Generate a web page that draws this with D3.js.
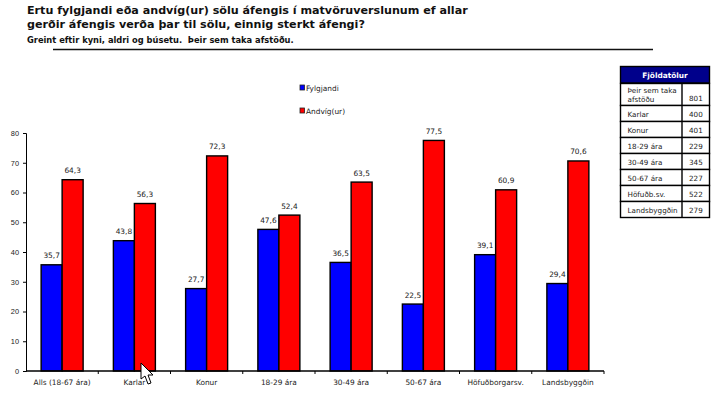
<!DOCTYPE html>
<meta charset="utf-8">
<title>Afstaða til sölu áfengis</title>
<style>
body { margin: 0; background: #fff; }
svg { display: block; font-family: "DejaVu Sans", sans-serif; }
.title { font-size: 11.15px; font-weight: bold; fill: #111; }
.sub { font-size: 8.3px; font-weight: bold; fill: #111; }
.axis text { font-size: 7.4px; fill: #222; }
.axis path, .axis line { stroke: #000; }
.val { font-size: 7.4px; fill: #222; text-anchor: middle; }
.legend { font-size: 7.4px; fill: #222; }
.cell { font-size: 7.2px; fill: #222; }
</style>
<svg width="719" height="401"></svg>
<script src="https://d3js.org/d3.v7.min.js"></script>
<script>

var categories = ["Alls (18-67 ára)", "Karlar", "Konur", "18-29 ára", "30-49 ára", "50-67 ára", "Höfuðborgarsv.", "Landsbyggðin"];
var fylgjandi = [35.7, 43.8, 27.7, 47.6, 36.5, 22.5, 39.1, 29.4];
var andvig = [64.3, 56.3, 72.3, 52.4, 63.5, 77.5, 60.9, 70.6];
var seriesNames = ["Fylgjandi", "Andvíg(ur)"];
var seriesColors = ["#0000ff", "#ff0000"];
var yTicks = [0, 10, 20, 30, 40, 50, 60, 70, 80];

var tableLabels = [["Þeir sem taka", "afstöðu"], ["Karlar"], ["Konur"], ["18-29 ára"], ["30-49 ára"], ["50-67 ára"], ["Höfuðb.sv."], ["Landsbyggðin"]];
var tableCounts = [801, 400, 401, 229, 345, 227, 522, 279];

var svg = d3.select("svg");

svg.append("text").attr("class", "title").attr("x", 27).attr("y", 14)
    .text("Ertu fylgjandi eða andvíg(ur) sölu áfengis í matvöruverslunum ef allar");
svg.append("text").attr("class", "title").attr("x", 27).attr("y", 28)
    .text("gerðir áfengis verða þar til sölu, einnig sterkt áfengi?");
svg.append("text").attr("class", "sub").attr("x", 27).attr("y", 43)
    .attr("xml:space", "preserve")
    .text("Greint eftir kyni, aldri og búsetu.  Þeir sem taka afstöðu.");
svg.append("line").attr("x1", 53).attr("x2", 653).attr("y1", 49.5).attr("y2", 49.5)
    .attr("stroke", "#111").attr("stroke-width", 1.5);

var x = d3.scaleBand().domain(categories).range([26, 604]);
var y = d3.scaleLinear().domain([0, 80]).range([371, 133]);
var barW = 21;

// axes
svg.append("g").attr("class", "axis").attr("transform", "translate(26,0)")
    .call(d3.axisLeft(y).tickValues(yTicks).tickSize(3).tickPadding(4))
    .call(function(g) { g.select(".domain").attr("stroke-width", 1); });

[fylgjandi, andvig].forEach(function(values, s) {
  svg.append("g").selectAll("rect")
      .data(values)
    .enter().append("rect")
      .attr("x", function(d, i) { return x(categories[i]) + x.bandwidth() / 2 - barW + s * barW; })
      .attr("y", function(d) { return y(d); })
      .attr("width", barW)
      .attr("height", function(d) { return y(0) - y(d); })
      .attr("fill", seriesColors[s])
      .attr("stroke", "#000")
      .attr("stroke-width", 1.4);

  svg.append("g").selectAll("text")
      .data(values)
    .enter().append("text")
      .attr("class", "val")
      .attr("x", function(d, i) { return x(categories[i]) + x.bandwidth() / 2 - barW / 2 + s * barW; })
      .attr("y", function(d) { return y(d) - 6.5; })
      .text(function(d) { return d3.format(".1f")(d).replace(".", ","); });
});

// x axis has ticks on the category boundaries
var xAxis = svg.append("g").attr("class", "axis").attr("transform", "translate(0,371)");
xAxis.append("line").attr("x1", 26).attr("x2", 604).attr("stroke-width", 1.5);
xAxis.selectAll("line.tk")
    .data(categories)
  .enter().append("line")
    .attr("class", "tk")
    .attr("x1", function(d) { return x(d) + x.bandwidth(); })
    .attr("x2", function(d) { return x(d) + x.bandwidth(); })
    .attr("y2", 3);
xAxis.selectAll("text")
    .data(categories)
  .enter().append("text")
    .attr("x", function(d) { return x(d) + x.bandwidth() / 2; })
    .attr("y", 13.5)
    .attr("text-anchor", "middle")
    .text(function(d) { return d; });

// legend
var legend = svg.append("g").selectAll("g")
    .data(seriesNames)
  .enter().append("g")
    .attr("transform", function(d, i) { return "translate(300," + (85 + i * 23) + ")"; });
legend.append("rect").attr("width", 4.5).attr("height", 5)
    .attr("fill", function(d, i) { return seriesColors[i]; })
    .attr("stroke", "#222").attr("stroke-width", 0.8);
legend.append("text").attr("class", "legend").attr("x", 6).attr("y", 5.5)
    .text(function(d) { return d; });

// table of counts
var rowY = d3.scaleOrdinal().domain(tableCounts.map(function(d, i) { return i; }))
    .range([83, 105, 121, 137, 153, 169, 185, 201]);
var rowH = function(i) { return i === 0 ? 22 : 16; };

var table = svg.append("g");
table.append("rect").attr("x", 620.5).attr("y", 66.5).attr("width", 89).attr("height", 16.5)
    .attr("fill", "#00008b").attr("stroke", "#000").attr("stroke-width", 1.4);
table.append("text").attr("x", 665).attr("y", 77.5).attr("text-anchor", "middle")
    .attr("font-size", 7.4).attr("font-weight", "bold").attr("fill", "#fff")
    .text("Fjöldatölur");

var row = table.selectAll("g.row")
    .data(tableCounts)
  .enter().append("g")
    .attr("class", "row")
    .attr("transform", function(d, i) { return "translate(620.5," + (rowY(i) + 0.5) + ")"; });
row.append("rect")
    .attr("width", 89)
    .attr("height", function(d, i) { return rowH(i); })
    .attr("fill", "#fff").attr("stroke", "#000").attr("stroke-width", 1.4);
row.append("line")
    .attr("x1", 61.5).attr("x2", 61.5)
    .attr("y2", function(d, i) { return rowH(i); })
    .attr("stroke", "#000").attr("stroke-width", 1.4);
row.append("text")
    .attr("class", "cell")
    .attr("x", 68.5).attr("text-anchor", "start")
    .attr("y", function(d, i) { return rowH(i) - 5; })
    .text(function(d) { return d; });
row.each(function(d, i) {
  d3.select(this).selectAll("text.lab")
      .data(tableLabels[i])
    .enter().append("text")
      .attr("class", "cell lab")
      .attr("x", 7)
      .attr("y", function(t, j) { return i === 0 ? 9 + j * 9 : 11; })
      .text(function(t) { return t; });
});

// mouse pointer caught in the screenshot
svg.append("path")
    .attr("d", d3.line()([[141, 363], [141, 379], [145, 376], [148, 384], [151, 383], [148, 375], [153, 375]]) + "Z")
    .attr("fill", "#fff").attr("stroke", "#000").attr("stroke-width", 1);

</script>
